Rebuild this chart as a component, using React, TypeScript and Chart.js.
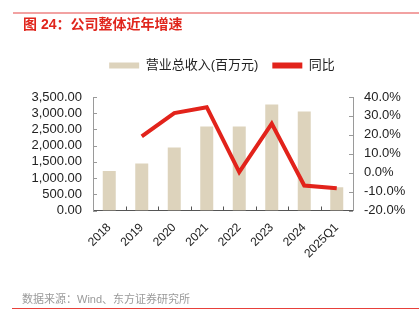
import React, { useEffect, useRef } from 'react';
import { Chart, registerables } from 'chart.js';

Chart.register(...registerables);

const categories = ['2018', '2019', '2020', '2021', '2022', '2023', '2024', '2025Q1'];
const revenue = [1220, 1450, 1940, 2590, 2590, 3270, 3050, 720];
const yoy = [null, 19.2, 31.5, 34.6, 0.3, 25.9, -6.8, -8.2];
const revenueLabel = '营业总收入(百万元)';
const yoyLabel = '同比';
const leftAxis = { min: 0, max: 3500, step: 500 };
const rightAxis = { min: -20, max: 40, step: 10 };
const titleText = '图 24：公司整体近年增速';
const sourceText = '数据来源：Wind、东方证券研究所';

const FONT = '"Liberation Sans", Arial, "Noto Sans CJK SC", sans-serif';
const BAR_COLOR = '#ddd3bc';
const LINE_COLOR = '#e2231b';

const legendSpacer = {
  id: 'legendSpacer',
  beforeInit(chart: any) {
    const fit = chart.legend.fit;
    chart.legend.fit = function () {
      fit.call(this);
      this.height += 15;
    };
  },
};

const inwardTicks = {
  id: 'inwardTicks',
  afterDraw(chart: any) {
    const { ctx, scales } = chart;
    const yl = scales.y;
    const yr = scales.y1;
    const xs = scales.x;
    ctx.save();
    ctx.lineWidth = 1;
    ctx.strokeStyle = '#9a9a9a';
    ctx.beginPath();
    yl.ticks.forEach((_: any, i: number) => {
      const py = Math.round(yl.getPixelForTick(i)) + 0.5;
      ctx.moveTo(yl.right, py);
      ctx.lineTo(yl.right + 4, py);
    });
    yr.ticks.forEach((_: any, i: number) => {
      const py = Math.round(yr.getPixelForTick(i)) + 0.5;
      ctx.moveTo(yr.left - 4, py);
      ctx.lineTo(yr.left, py);
    });
    ctx.stroke();
    ctx.strokeStyle = '#555';
    ctx.beginPath();
    for (let i = 1; i < categories.length; i++) {
      const px = Math.round((xs.getPixelForValue(i - 1) + xs.getPixelForValue(i)) / 2) + 0.5;
      ctx.moveTo(px, xs.top - 4);
      ctx.lineTo(px, xs.top);
    }
    ctx.stroke();
    ctx.restore();
  },
};

function fmtThousands(v: number) {
  return Number(v).toLocaleString('en-US', { minimumFractionDigits: 2, maximumFractionDigits: 2 });
}

export default function App() {
  const ref = useRef<HTMLCanvasElement | null>(null);
  useEffect(() => {
    if (!ref.current) return;
    const chart = new Chart(ref.current, {
      type: 'bar',
      data: {
        labels: categories,
        datasets: [
          {
            type: 'bar',
            label: revenueLabel,
            data: revenue,
            backgroundColor: BAR_COLOR,
            borderWidth: 0,
            categoryPercentage: 1,
            barPercentage: 0.4,
            yAxisID: 'y',
            order: 2,
          } as any,
          {
            type: 'line',
            label: yoyLabel,
            data: yoy,
            borderColor: LINE_COLOR,
            backgroundColor: LINE_COLOR,
            borderWidth: 4,
            pointRadius: 0,
            tension: 0,
            yAxisID: 'y1',
            order: 1,
          } as any,
        ],
      },
      options: {
        responsive: false,
        animation: false,
        devicePixelRatio: 1,
        layout: { padding: { top: 45, left: 25, right: 0, bottom: 0 } },
        plugins: {
          tooltip: { enabled: false },
          legend: {
            display: true,
            position: 'top',
            labels: {
              boxWidth: 30,
              boxHeight: 6,
              padding: 14,
              color: '#222',
              font: { family: FONT, size: 13 },
              sort: (a: any, b: any) => a.datasetIndex - b.datasetIndex,
              generateLabels(chart: any) {
                const items = Chart.defaults.plugins.legend.labels.generateLabels(chart);
                return items.map((it: any) => ({ ...it, lineWidth: 0, strokeStyle: 'transparent' }));
              },
            },
          },
        },
        scales: {
          x: {
            offset: true,
            grid: { display: false },
            border: { display: true, color: '#555', width: 1 },
            ticks: {
              autoSkip: false,
              minRotation: 45,
              maxRotation: 45,
              padding: 2,
              color: '#222',
              font: { family: FONT, size: 12 },
            },
            afterFit(s: any) {
              s.height = 115.5;
            },
          },
          y: {
            position: 'left',
            min: leftAxis.min,
            max: leftAxis.max,
            grid: { display: false, drawTicks: false },
            border: { display: true, color: '#9a9a9a', width: 1 },
            ticks: {
              autoSkip: false,
              stepSize: leftAxis.step,
              padding: 11,
              color: '#222',
              font: { family: FONT, size: 13 },
              callback: (v: any) => fmtThousands(v),
            },
            afterFit(s: any) {
              s.width = 68;
            },
          },
          y1: {
            position: 'right',
            min: rightAxis.min,
            max: rightAxis.max,
            grid: { display: false, drawTicks: false },
            border: { display: true, color: '#9a9a9a', width: 1 },
            ticks: {
              autoSkip: false,
              stepSize: rightAxis.step,
              padding: 11,
              color: '#222',
              font: { family: FONT, size: 13 },
              callback: (v: any) => Number(v).toFixed(1) + '%',
            },
            afterFit(s: any) {
              s.width = 66;
            },
          },
        },
      },
      plugins: [legendSpacer, inwardTicks],
    } as any);
    return () => chart.destroy();
  }, []);

  return (
    <div style={{ position: 'fixed', left: 0, top: 0, width: 419, height: 326, background: '#fff', overflow: 'hidden' }}>
      <canvas ref={ref} width={419} height={326} style={{ position: 'absolute', left: 0, top: 0, width: 419, height: 326 }} />
      <div style={{ position: 'absolute', left: 13, top: 12, width: 406, height: 1.5, background: '#f2a2a2' }} />
      <div
        style={{
          position: 'absolute',
          left: 23,
          top: 15,
          fontFamily: FONT,
          fontSize: 14,
          lineHeight: '18px',
          fontWeight: 'bold',
          color: '#e0261d',
          whiteSpace: 'nowrap',
        }}
      >
        {titleText}
      </div>
      <div
        style={{
          position: 'absolute',
          left: 22,
          top: 292,
          fontFamily: FONT,
          fontSize: 11,
          lineHeight: '14px',
          color: '#9a9a9a',
          whiteSpace: 'nowrap',
        }}
      >
        {sourceText}
      </div>
      <div style={{ position: 'absolute', left: 12, top: 308, width: 407, height: 1, background: '#e8403a' }} />
    </div>
  );
}
